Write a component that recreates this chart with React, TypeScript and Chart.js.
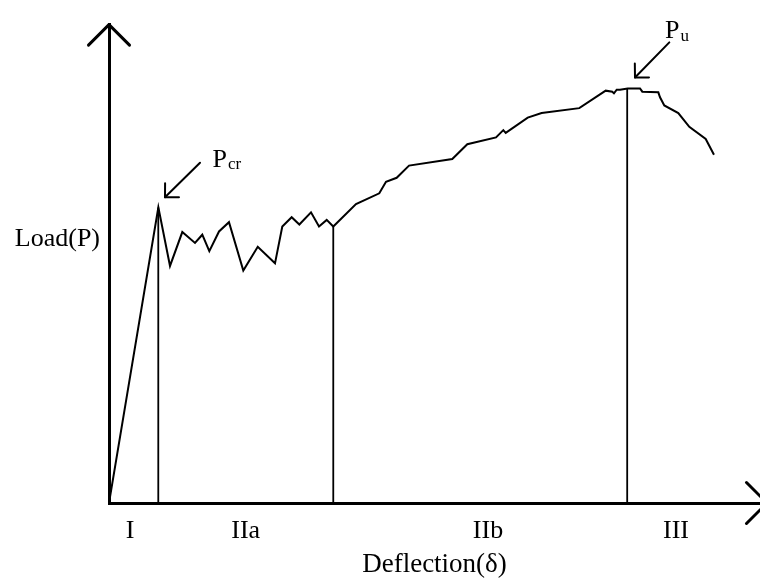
import React, { useEffect, useRef } from "react";
import { Chart, registerables } from "chart.js";

Chart.register(...registerables);

// Load–deflection curve (arbitrary units: deflection 0–100, load 0–100)
const curveX = [
  0, 7.58, 9.37, 11.26, 13.21, 14.33, 15.41, 16.9, 18.43, 20.63, 22.85, 25.5, 26.62, 28.06,
  29.24, 31.03, 32.26, 33.44, 34.45, 37.94, 41.52, 42.55, 44.19, 46.09, 52.73, 55.04, 59.45,
  60.57, 60.94, 64.32, 66.46, 72.24, 76.3, 77.31, 77.57, 77.99, 78.49, 79.68, 81.57, 81.92,
  84.38, 84.64, 85.3, 87.45, 89.14, 91.66, 92.93,
];
const curveY = [
  0, 61.79, 49.55, 56.64, 54.37, 56.08, 52.64, 56.76, 58.7, 48.6, 53.55, 50.1, 57.79, 59.73,
  58.21, 60.76, 57.79, 59.18, 57.79, 62.47, 64.74, 67.15, 67.98, 70.52, 71.9, 74.99, 76.43,
  77.94, 77.38, 80.56, 81.51, 82.54, 86.19, 85.98, 85.63, 86.39, 86.39, 86.66, 86.66, 85.98,
  85.84, 84.8, 83.09, 81.51, 78.62, 76.08, 72.78,
];

// Stage boundaries (vertical lines) and the load they reach
const boundaryX = [7.57, 34.45, 79.6];
const boundaryTop = [61.79, 57.79, 86.66];

// Stage labels along the deflection axis
const stageLabels = ["I", "IIa", "IIb", "III"];
const stagePositions = [3.23, 21.0, 58.22, 87.1];

// Axis labels
const yAxisLabel = "Load(P)";
const yAxisLabelPos = 55.2;
const xAxisTitle = "Deflection(δ)";

// Annotations: main letter, subscript, label anchor, arrow start, arrow tip
const annoMain = ["P", "P"];
const annoSub = ["cr", "u"];
const annoLabelX = [15.9, 85.41];
const annoLabelY = [70.31, 97.18];
const arrowFromX = [13.98, 86.07];
const arrowFromY = [71.13, 96.29];
const arrowToX = [8.6, 80.8];
const arrowToY = [63.92, 88.93];

const SERIF = "'Liberation Serif', 'Times New Roman', serif";

function drawArrowHead(ctx: CanvasRenderingContext2D, fx: number, fy: number, tx: number, ty: number, len: number) {
  const ang = Math.atan2(ty - fy, tx - fx);
  ctx.beginPath();
  ctx.moveTo(tx - len * Math.cos(ang - Math.PI / 4), ty - len * Math.sin(ang - Math.PI / 4));
  ctx.lineTo(tx, ty);
  ctx.lineTo(tx - len * Math.cos(ang + Math.PI / 4), ty - len * Math.sin(ang + Math.PI / 4));
  ctx.stroke();
}

const annotationPlugin = {
  id: "annotations",
  afterDraw(chart: any) {
    const { ctx, chartArea, scales } = chart;
    const xs = scales.x;
    const ys = scales.y;
    ctx.save();
    ctx.strokeStyle = "#000";
    ctx.fillStyle = "#000";
    ctx.lineCap = "round";
    ctx.lineJoin = "round";

    // axis arrowheads
    ctx.lineWidth = 3;
    drawArrowHead(ctx, chartArea.left, chartArea.bottom, chartArea.left, chartArea.top, 29);
    drawArrowHead(ctx, chartArea.left, chartArea.bottom, chartArea.right + 7, chartArea.bottom, 29);

    // annotation arrows
    ctx.lineWidth = 2;
    for (let i = 0; i < annoMain.length; i++) {
      const fx = xs.getPixelForValue(arrowFromX[i]);
      const fy = ys.getPixelForValue(arrowFromY[i]);
      const tx = xs.getPixelForValue(arrowToX[i]);
      const ty = ys.getPixelForValue(arrowToY[i]);
      ctx.beginPath();
      ctx.moveTo(fx, fy);
      ctx.lineTo(tx, ty);
      ctx.stroke();
      drawArrowHead(ctx, fx, fy, tx, ty, 14);

      const lx = xs.getPixelForValue(annoLabelX[i]);
      const ly = ys.getPixelForValue(annoLabelY[i]);
      ctx.textAlign = "left";
      ctx.textBaseline = "alphabetic";
      ctx.font = `26px ${SERIF}`;
      ctx.fillText(annoMain[i], lx, ly);
      const w = ctx.measureText(annoMain[i]).width;
      ctx.font = `17px ${SERIF}`;
      ctx.fillText(annoSub[i], lx + w + 1, ly + 2.5);
    }
    ctx.restore();
  },
};

export default function App() {
  const canvasRef = useRef<HTMLCanvasElement | null>(null);

  useEffect(() => {
    document.body.style.margin = "0";
    const canvas = canvasRef.current;
    if (!canvas) return;

    const boundaryDatasets = boundaryX.map((bx, i) => ({
      label: `boundary${i}`,
      data: [
        { x: bx, y: 0 },
        { x: bx, y: boundaryTop[i] },
      ],
      borderColor: "#000",
      borderWidth: 1.8,
      pointRadius: 0,
      fill: false,
    }));

    const chart = new Chart(canvas, {
      type: "line",
      data: {
        datasets: [
          {
            label: "curve",
            data: curveX.map((x, i) => ({ x, y: curveY[i] })),
            borderColor: "#000",
            borderWidth: 2,
            pointRadius: 0,
            tension: 0,
            fill: false,
          },
          ...boundaryDatasets,
        ],
      },
      options: {
        animation: false,
        responsive: false,
        devicePixelRatio: 1,
        layout: { padding: { top: 18, right: 0, bottom: 0, left: 0 } },
        plugins: {
          legend: { display: false },
          tooltip: { enabled: false },
        },
        scales: {
          x: {
            type: "linear",
            min: 0,
            max: 100,
            grid: { display: false, drawTicks: false },
            border: { display: true, color: "#000", width: 3 },
            afterFit: (s: any) => {
              s.height = 78;
            },
            afterBuildTicks: (s: any) => {
              s.ticks = stagePositions.map((v) => ({ value: v }));
            },
            ticks: {
              autoSkip: false,
              maxRotation: 0,
              padding: 13,
              color: "#000",
              font: { family: SERIF, size: 26 },
              callback: (_v: any, idx: number) => stageLabels[idx],
            },
            title: {
              display: true,
              text: xAxisTitle,
              color: "#000",
              font: { family: SERIF, size: 27 },
              padding: { top: 0, bottom: 0 },
            },
          },
          y: {
            type: "linear",
            min: 0,
            max: 100,
            grid: { display: false, drawTicks: false },
            border: { display: true, color: "#000", width: 3 },
            afterFit: (s: any) => {
              s.width = 109;
            },
            afterBuildTicks: (s: any) => {
              s.ticks = [{ value: yAxisLabelPos }];
            },
            ticks: {
              autoSkip: false,
              padding: 9,
              color: "#000",
              font: { family: SERIF, size: 26 },
              callback: () => yAxisLabel,
            },
          },
        },
      },
      plugins: [annotationPlugin],
    } as any);

    return () => chart.destroy();
  }, []);

  return (
    <div style={{ width: 760, height: 581 }}>
      <canvas ref={canvasRef} width={760} height={581} style={{ display: "block" }} />
    </div>
  );
}
